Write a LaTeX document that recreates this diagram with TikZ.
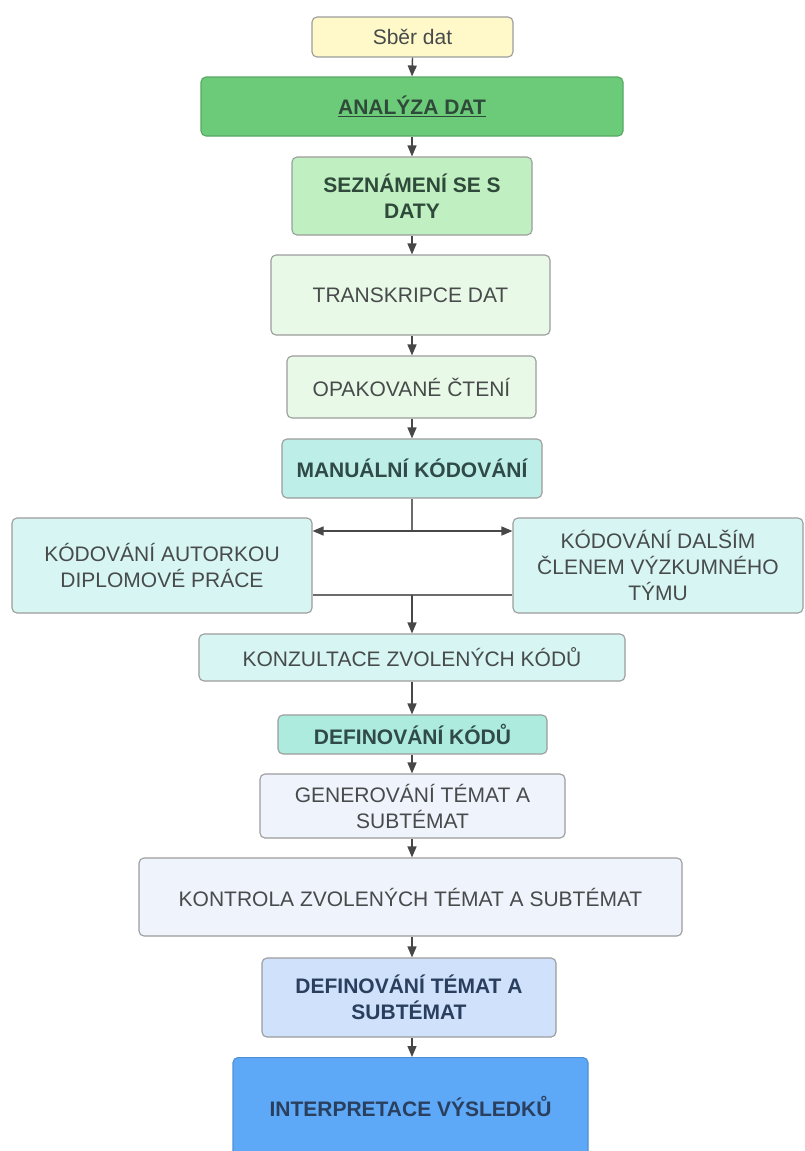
\documentclass[tikz,border=0pt]{standalone}
\usepackage{fontspec}
\setmainfont{Liberation Sans}
\usetikzlibrary{arrows.meta}
\definecolor{cSber}{HTML}{FFF9C9}
\definecolor{cAnal}{HTML}{6CCB79}
\definecolor{cAnalB}{HTML}{55A862}
\definecolor{cSezn}{HTML}{C0F0C2}
\definecolor{cTran}{HTML}{E9F9E7}
\definecolor{cManu}{HTML}{BDEFE8}
\definecolor{cKod}{HTML}{D7F6F3}
\definecolor{cDefK}{HTML}{ACEBDD}
\definecolor{cGen}{HTML}{EEF3FC}
\definecolor{cDefT}{HTML}{CFE1FB}
\definecolor{cInt}{HTML}{5EA9F7}
\definecolor{cIntB}{HTML}{4D90D8}
\definecolor{cBord}{HTML}{9C9C9C}
\definecolor{cTxt}{HTML}{474B4B}
\definecolor{cTxtG}{HTML}{2F4A3A}
\definecolor{cTxtT}{HTML}{2F4A48}
\definecolor{cTxtB}{HTML}{2A3F5E}
\definecolor{cLine}{HTML}{474747}
\tikzset{
  box/.style={draw=cBord, line width=1.1pt, rounded corners=5pt, inner sep=0pt,
    align=center, text=cTxt, font=\fontsize{21}{26}\selectfont},
  bbox/.style={box, font=\fontsize{21}{26}\selectfont\bfseries},
  arr/.style={draw=cLine, line width=1.4pt, -{Triangle[length=11pt,width=9pt]}},
  ln/.style={draw=cLine!80, line width=1.4pt}
}
\begin{document}
\begin{tikzpicture}[x=1pt,y=-1pt]
\useasboundingbox (0,0) rectangle (804,1151);
\fill[white] (0,0) rectangle (804,1151);
\node[box, fill=cSber, minimum width=201pt, minimum height=40pt] (sber) at (412.5,37) {Sběr dat};
\node[bbox, fill=cAnal, draw=cAnalB, text=cTxtG, minimum width=422pt, minimum height=59pt] (anal) at (412,106.5) {\underline{ANALÝZA DAT}};
\node[bbox, fill=cSezn, text=cTxtG, minimum width=240pt, minimum height=78pt] (sezn) at (412,196) {SEZNÁMENÍ SE S\\DATY};
\node[box, fill=cTran, minimum width=279pt, minimum height=80pt] (tran) at (410.5,295) {TRANSKRIPCE DAT};
\node[box, fill=cTran, minimum width=249pt, minimum height=62pt] (opak) at (411.5,387) {OPAKOVANÉ ČTENÍ};
\node[bbox, fill=cManu, text=cTxtT, minimum width=260pt, minimum height=59pt] (manu) at (412,468.5) {MANUÁLNÍ KÓDOVÁNÍ};
\node[box, fill=cKod, minimum width=300pt, minimum height=95pt] (left) at (162,565.5) {KÓDOVÁNÍ AUTORKOU\\DIPLOMOVÉ PRÁCE};
\node[box, fill=cKod, minimum width=290pt, minimum height=95pt] (right) at (658,565.5) {KÓDOVÁNÍ DALŠÍM\\ČLENEM VÝZKUMNÉHO\\TÝMU};
\node[box, fill=cKod, minimum width=426pt, minimum height=47pt] (konz) at (412,657.5) {KONZULTACE ZVOLENÝCH KÓDŮ};
\node[bbox, fill=cDefK, text=cTxtT, minimum width=269pt, minimum height=39pt] (defk) at (412.5,734.5) {DEFINOVÁNÍ KÓDŮ};
\node[box, fill=cGen, minimum width=305pt, minimum height=64pt] (gen) at (412.5,806) {GENEROVÁNÍ TÉMAT A\\SUBTÉMAT};
\node[box, fill=cGen, minimum width=543pt, minimum height=78pt] (kont) at (410.5,897) {KONTROLA ZVOLENÝCH TÉMAT A SUBTÉMAT};
\node[bbox, fill=cDefT, text=cTxtB, minimum width=294pt, minimum height=79pt] (deft) at (409,997.5) {DEFINOVÁNÍ TÉMAT A\\SUBTÉMAT};
\node[bbox, fill=cInt, draw=cIntB, text=cTxtB, minimum width=355pt, minimum height=98pt, anchor=north] (int) at (410.5,1057) {INTERPRETACE VÝSLEDKŮ};
% connectors
\draw[arr] (sber.south) -- (anal.north);
\draw[arr] (anal.south) -- (sezn.north);
\draw[arr] (sezn.south) -- (tran.north -| sezn.south);
\draw[arr] (tran.south -| sezn.south) -- (opak.north -| sezn.south);
\draw[arr] (opak.south -| sezn.south) -- (manu.north);
\coordinate (j) at (412,531);
\draw[ln] (manu.south) -- (j);
\draw[arr, rounded corners=3pt] (j) -- (j -| left.east);
\draw[arr, rounded corners=3pt] (j) -- (j -| right.west);
\coordinate (m) at (412,595);
\draw[ln] (m -| left.east) -- (m -| right.west);
\draw[arr] (m) -- (konz.north);
\draw[arr] (konz.south) -- (defk.north -| konz.south);
\draw[arr] (defk.south -| konz.south) -- (gen.north -| konz.south);
\draw[arr] (gen.south -| konz.south) -- (kont.north -| konz.south);
\draw[arr] (kont.south -| konz.south) -- (deft.north -| konz.south);
\draw[arr] (deft.south -| konz.south) -- (int.north -| konz.south);
\end{tikzpicture}
\end{document}
